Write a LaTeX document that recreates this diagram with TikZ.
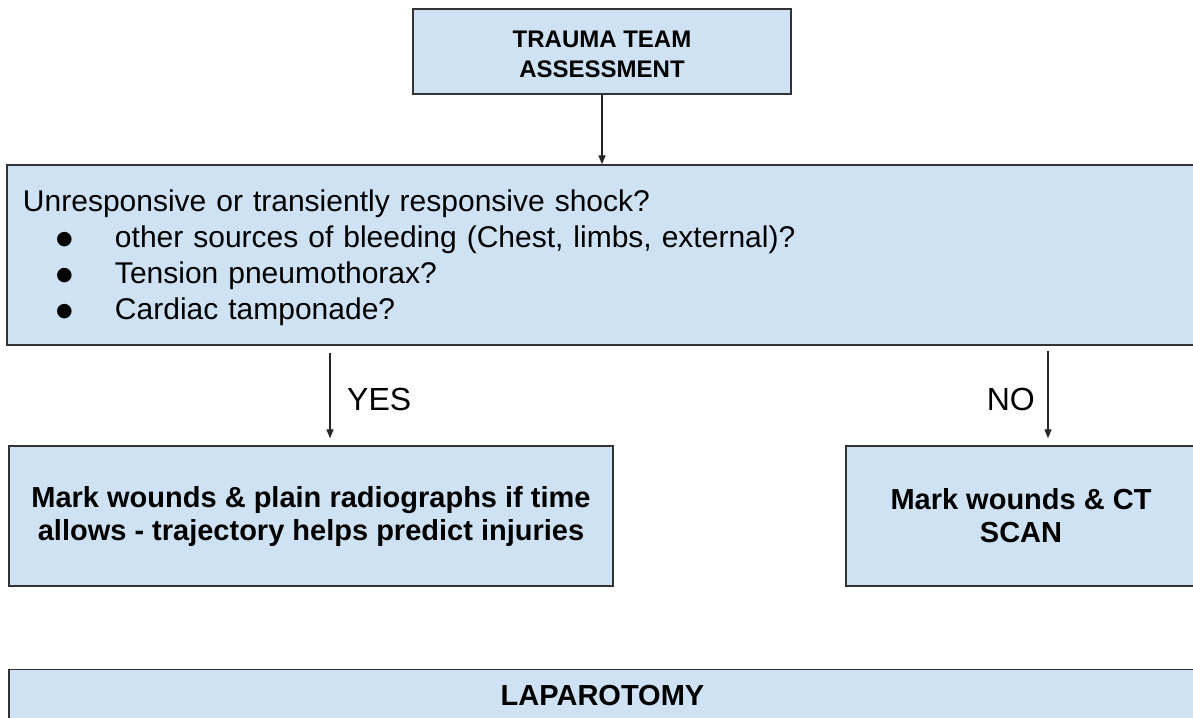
\documentclass[tikz,border=0pt]{standalone}
\usepackage{fontspec}
\setmainfont{Liberation Sans}
\newfontfamily\dejavu{DejaVu Sans}
\usetikzlibrary{arrows.meta}
\definecolor{boxblue}{HTML}{CFE2F3}
\definecolor{edgegray}{HTML}{333333}
\newcommand{\bigbul}{\makebox[92pt][l]{\hspace*{33pt}\raisebox{3pt}{\dejavu\fontsize{19}{24}\selectfont ●}}}
\begin{document}
\begin{tikzpicture}[x=1pt,y=-1pt,
  box/.style={draw=edgegray, line width=1.4pt, fill=boxblue, rectangle, inner sep=0pt},
  boldtext/.style={font=\fontsize{29}{33}\selectfont\bfseries, align=center},
  arr/.style={draw=black!85, line width=1.3pt, -{Triangle[width=7pt,length=9pt]}},
  lbl/.style={font=\fontsize{32}{38}\selectfont, inner sep=0pt}]
\useasboundingbox (0,0) rectangle (1193,717);
\clip (0,0) rectangle (1193,717);
\fill[white] (0,0) rectangle (1193,717);

\node[box, minimum width=378pt, minimum height=85pt, align=center,
      font=\fontsize{24}{30}\selectfont\bfseries] (top) at (602,51.5) {\rule{0pt}{23pt}TRAUMA TEAM\\ASSESSMENT};

\node[box, minimum width=1189pt, minimum height=180pt, inner xsep=16pt,
      text width=1157pt, align=left, font=\fontsize{30}{36}\selectfont] (mid) at (601.5,255)
  {\rule{0pt}{28pt}Unresponsive or transiently responsive shock?\\
   \bigbul other sources of bleeding (Chest, limbs, external)?\\
   \bigbul Tension pneumothorax?\\
   \bigbul Cardiac tamponade?};

\node[box, boldtext, minimum width=604pt, minimum height=140pt] (lbox) at (311,516)
  {Mark wounds \& plain radiographs if time\\allows - trajectory helps predict injuries};

\node[box, boldtext, minimum width=350pt, minimum height=140pt] (rbox) at (1021,516)
  {Mark wounds \& CT\\SCAN};

\node[box, anchor=north, minimum width=1187pt, inner ysep=15pt, text height=21pt, text depth=60pt,
      font=\fontsize{29}{33}\selectfont\bfseries] (lap) at (602.5,669) {LAPAROTOMY};

\node[lbl, anchor=base west] (yes) at (347,410) {YES};
\node[lbl, anchor=base east] (no) at (1035,410) {NO};

\coordinate (yx) at (330,0);
\coordinate (nx) at (1048,0);

\draw[arr] (top.south) -- (top.south |- mid.north);
\draw[arr, shorten <=7pt, shorten >=7pt] (mid.south -| yx) -- (lbox.north -| yx);
\draw[arr, shorten <=5pt, shorten >=7pt] (mid.south -| nx) -- (rbox.north -| nx);
\end{tikzpicture}
\end{document}
